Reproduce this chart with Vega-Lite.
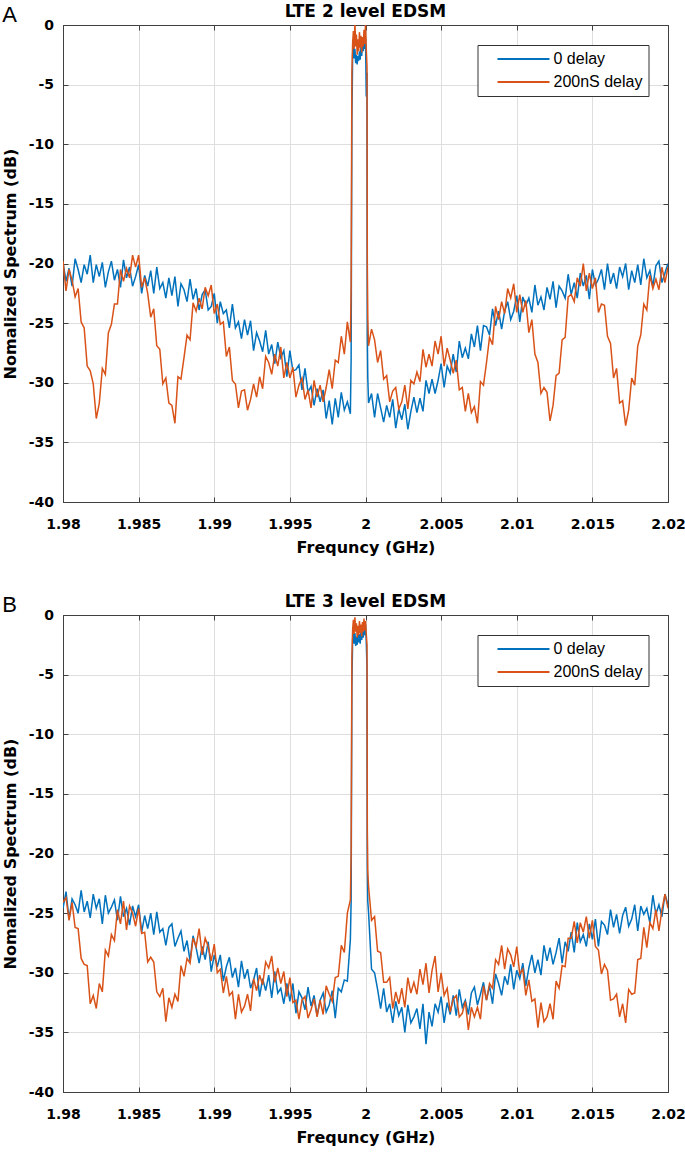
{
"$schema":"https://vega.github.io/schema/vega-lite/v6.json",
"padding":{"left":1,"top":2,"right":0,"bottom":0},
"spacing":36,
"config":{"view":{"stroke":"#404040","strokeWidth":1},"font":"DejaVu Sans"},
"resolve":{"scale":{"color":"independent"},"legend":{"color":"independent"}},
"datasets":{
"a0":[{"f":1.98,"d":-19.9},{"f":1.9802,"d":-21.5},{"f":1.9804,"d":-20.4},{"f":1.9806,"d":-21.9},{"f":1.9808,"d":-19.6},{"f":1.981,"d":-20.5},{"f":1.9812,"d":-21.6},{"f":1.9814,"d":-20.1},{"f":1.9816,"d":-20.9},{"f":1.9818,"d":-19.3},
{"f":1.982,"d":-21.6},{"f":1.9822,"d":-20.1},{"f":1.9824,"d":-21.1},{"f":1.9826,"d":-19.9},{"f":1.9828,"d":-22.0},{"f":1.983,"d":-20.7},{"f":1.9832,"d":-19.8},{"f":1.9834,"d":-21.4},{"f":1.9836,"d":-20.5},{"f":1.9838,"d":-22.0},
{"f":1.984,"d":-19.7},{"f":1.9842,"d":-21.2},{"f":1.9844,"d":-20.3},{"f":1.9846,"d":-21.9},{"f":1.9848,"d":-21.1},{"f":1.985,"d":-20.1},{"f":1.9852,"d":-22.5},{"f":1.9854,"d":-21.0},{"f":1.9856,"d":-21.9},{"f":1.9858,"d":-20.6},
{"f":1.986,"d":-22.5},{"f":1.9862,"d":-20.3},{"f":1.9864,"d":-22.1},{"f":1.9866,"d":-21.6},{"f":1.9868,"d":-22.9},{"f":1.987,"d":-21.2},{"f":1.9872,"d":-22.7},{"f":1.9874,"d":-21.1},{"f":1.9876,"d":-23.6},{"f":1.9878,"d":-21.7},
{"f":1.988,"d":-22.2},{"f":1.9882,"d":-23.2},{"f":1.9884,"d":-21.3},{"f":1.9886,"d":-23.0},{"f":1.9888,"d":-22.1},{"f":1.989,"d":-23.9},{"f":1.9892,"d":-22.6},{"f":1.9894,"d":-22.2},{"f":1.9896,"d":-23.9},{"f":1.9898,"d":-23.6},
{"f":1.99,"d":-22.5},{"f":1.9902,"d":-25.0},{"f":1.9904,"d":-23.2},{"f":1.9906,"d":-24.2},{"f":1.9908,"d":-23.9},{"f":1.991,"d":-25.4},{"f":1.9912,"d":-23.4},{"f":1.9914,"d":-25.4},{"f":1.9916,"d":-24.9},{"f":1.9918,"d":-26.3},
{"f":1.992,"d":-24.7},{"f":1.9922,"d":-26.0},{"f":1.9924,"d":-24.8},{"f":1.9926,"d":-27.3},{"f":1.9928,"d":-25.8},{"f":1.993,"d":-26.5},{"f":1.9932,"d":-27.4},{"f":1.9934,"d":-25.6},{"f":1.9936,"d":-27.6},{"f":1.9938,"d":-26.8},
{"f":1.994,"d":-28.4},{"f":1.9942,"d":-26.6},{"f":1.9944,"d":-27.9},{"f":1.9946,"d":-27.3},{"f":1.9948,"d":-29.5},{"f":1.995,"d":-27.3},{"f":1.9952,"d":-29.0},{"f":1.9954,"d":-28.9},{"f":1.9956,"d":-28.5},{"f":1.9958,"d":-30.6},
{"f":1.996,"d":-28.8},{"f":1.9962,"d":-30.8},{"f":1.9964,"d":-30.3},{"f":1.9966,"d":-31.9},{"f":1.9968,"d":-30.5},{"f":1.997,"d":-31.6},{"f":1.9972,"d":-30.6},{"f":1.9974,"d":-33.0},{"f":1.9976,"d":-31.5},{"f":1.9978,"d":-33.5},
{"f":1.998,"d":-31.3},{"f":1.9982,"d":-32.9},{"f":1.9984,"d":-30.8},{"f":1.9986,"d":-32.3},{"f":1.9988,"d":-31.6},{"f":1.999,"d":-32.6},
{"f":1.99905,"d":-28},{"f":1.9991,"d":-8},{"f":1.99915,"d":-2.5},{"f":1.9992,"d":-1.5},{"f":1.99925,"d":-2.8},{"f":1.9993,"d":-2.0},{"f":1.99935,"d":-3.2},{"f":1.9994,"d":-2.5},{"f":1.99945,"d":-3.3},{"f":1.9995,"d":-2.6},{"f":1.99955,"d":-3.0},{"f":1.9996,"d":-2.2},{"f":1.99965,"d":-2.9},{"f":1.9997,"d":-1.8},{"f":1.99975,"d":-2.6},{"f":1.9998,"d":-1.4},{"f":1.99985,"d":-2.2},{"f":1.9999,"d":-1.2},{"f":1.99995,"d":-2.0},{"f":2,"d":-1.0},{"f":2.00005,"d":-6.0},{"f":2.0001,"d":-4.0},{"f":2.00012,"d":-26},{"f":2.00015,"d":-29.5},
{"f":2.0002,"d":-31.7},{"f":2.0004,"d":-30.9},{"f":2.0006,"d":-32.9},{"f":2.0008,"d":-30.9},{"f":2.001,"d":-32.1},{"f":2.0012,"d":-33.3},{"f":2.0014,"d":-31.9},{"f":2.0016,"d":-32.9},{"f":2.0018,"d":-31.4},{"f":2.002,"d":-33.8},
{"f":2.0022,"d":-32.2},{"f":2.0024,"d":-33.1},{"f":2.0026,"d":-31.8},{"f":2.0028,"d":-33.9},{"f":2.003,"d":-32.4},{"f":2.0032,"d":-31.2},{"f":2.0034,"d":-32.5},{"f":2.0036,"d":-31.3},{"f":2.0038,"d":-32.4},{"f":2.004,"d":-29.8},
{"f":2.0042,"d":-30.9},{"f":2.0044,"d":-29.7},{"f":2.0046,"d":-30.9},{"f":2.0048,"d":-29.8},{"f":2.005,"d":-28.4},{"f":2.0052,"d":-30.4},{"f":2.0054,"d":-28.6},{"f":2.0056,"d":-29.2},{"f":2.0058,"d":-27.6},{"f":2.006,"d":-29.1},
{"f":2.0062,"d":-26.5},{"f":2.0064,"d":-27.9},{"f":2.0066,"d":-27.1},{"f":2.0068,"d":-28.0},{"f":2.007,"d":-25.9},{"f":2.0072,"d":-27.0},{"f":2.0074,"d":-25.2},{"f":2.0076,"d":-27.3},{"f":2.0078,"d":-25.2},{"f":2.008,"d":-25.3},
{"f":2.0082,"d":-26.0},{"f":2.0084,"d":-23.8},{"f":2.0086,"d":-25.2},{"f":2.0088,"d":-24.0},{"f":2.009,"d":-25.5},{"f":2.0092,"d":-24.0},{"f":2.0094,"d":-23.2},{"f":2.0096,"d":-24.7},{"f":2.0098,"d":-24.0},{"f":2.01,"d":-22.7},
{"f":2.0102,"d":-24.9},{"f":2.0104,"d":-22.8},{"f":2.0106,"d":-23.5},{"f":2.0108,"d":-22.9},{"f":2.011,"d":-24.1},{"f":2.0112,"d":-21.8},{"f":2.0114,"d":-23.5},{"f":2.0116,"d":-22.8},{"f":2.0118,"d":-23.9},{"f":2.012,"d":-22.0},
{"f":2.0122,"d":-23.0},{"f":2.0124,"d":-21.5},{"f":2.0126,"d":-23.7},{"f":2.0128,"d":-21.9},{"f":2.013,"d":-22.3},{"f":2.0132,"d":-22.9},{"f":2.0134,"d":-20.9},{"f":2.0136,"d":-22.6},{"f":2.0138,"d":-21.6},{"f":2.014,"d":-22.9},
{"f":2.0142,"d":-20.8},{"f":2.0144,"d":-21.9},{"f":2.0146,"d":-21.0},{"f":2.0148,"d":-23.0},{"f":2.015,"d":-20.5},{"f":2.0152,"d":-21.8},{"f":2.0154,"d":-21.3},{"f":2.0156,"d":-20.5},{"f":2.0158,"d":-22.2},{"f":2.016,"d":-20.0},
{"f":2.0162,"d":-21.7},{"f":2.0164,"d":-20.8},{"f":2.0166,"d":-22.1},{"f":2.0168,"d":-20.3},{"f":2.017,"d":-21.1},{"f":2.0172,"d":-20.0},{"f":2.0174,"d":-22.2},{"f":2.0176,"d":-20.6},{"f":2.0178,"d":-21.6},{"f":2.018,"d":-20.1},
{"f":2.0182,"d":-21.8},{"f":2.0184,"d":-19.6},{"f":2.0186,"d":-21.2},{"f":2.0188,"d":-20.6},{"f":2.019,"d":-21.9},{"f":2.0192,"d":-20.2},{"f":2.0194,"d":-19.8},{"f":2.0196,"d":-21.6},{"f":2.0198,"d":-20.8},{"f":2.02,"d":-20.0}],
"a2":[{"f":1.98,"d":-19.8},{"f":1.9802,"d":-22.3},{"f":1.9804,"d":-20.5},{"f":1.9806,"d":-21.4},{"f":1.9808,"d":-22.8},{"f":1.981,"d":-22.1},{"f":1.9812,"d":-24.9},{"f":1.9814,"d":-25.4},{"f":1.9816,"d":-28.6},{"f":1.9818,"d":-29.0},
{"f":1.982,"d":-30.1},{"f":1.9822,"d":-33.0},{"f":1.9824,"d":-31.7},{"f":1.9826,"d":-28.8},{"f":1.9828,"d":-29.3},{"f":1.983,"d":-25.8},{"f":1.9832,"d":-25.1},{"f":1.9834,"d":-23.4},{"f":1.9836,"d":-23.4},{"f":1.9838,"d":-20.5},
{"f":1.984,"d":-21.5},{"f":1.9842,"d":-20.4},{"f":1.9844,"d":-21.2},{"f":1.9846,"d":-19.3},{"f":1.9848,"d":-20.3},{"f":1.985,"d":-19.3},{"f":1.9852,"d":-22.0},{"f":1.9854,"d":-21.2},{"f":1.9856,"d":-22.5},{"f":1.9858,"d":-24.5},
{"f":1.986,"d":-23.8},{"f":1.9862,"d":-26.9},{"f":1.9864,"d":-27.2},{"f":1.9866,"d":-30.1},{"f":1.9868,"d":-29.6},{"f":1.987,"d":-31.7},{"f":1.9872,"d":-31.9},{"f":1.9874,"d":-33.4},{"f":1.9876,"d":-29.5},{"f":1.9878,"d":-29.7},
{"f":1.988,"d":-27.9},{"f":1.9882,"d":-26.0},{"f":1.9884,"d":-26.4},{"f":1.9886,"d":-23.3},{"f":1.9888,"d":-24.0},{"f":1.989,"d":-22.9},{"f":1.9892,"d":-23.8},{"f":1.9894,"d":-22.0},{"f":1.9896,"d":-22.7},{"f":1.9898,"d":-21.8},
{"f":1.99,"d":-24.2},{"f":1.9902,"d":-23.4},{"f":1.9904,"d":-25.1},{"f":1.9906,"d":-24.9},{"f":1.9908,"d":-27.8},{"f":1.991,"d":-27.0},{"f":1.9912,"d":-29.8},{"f":1.9914,"d":-30.1},{"f":1.9916,"d":-32.1},{"f":1.9918,"d":-30.7},
{"f":1.992,"d":-30.6},{"f":1.9922,"d":-32.3},{"f":1.9924,"d":-31.4},{"f":1.9926,"d":-30.1},{"f":1.9928,"d":-31.2},{"f":1.993,"d":-29.5},{"f":1.9932,"d":-30.5},{"f":1.9934,"d":-27.8},{"f":1.9936,"d":-28.3},{"f":1.9938,"d":-29.3},
{"f":1.994,"d":-27.6},{"f":1.9942,"d":-28.6},{"f":1.9944,"d":-27.0},{"f":1.9946,"d":-29.6},{"f":1.9948,"d":-28.3},{"f":1.995,"d":-29.6},{"f":1.9952,"d":-28.7},{"f":1.9954,"d":-31.2},{"f":1.9956,"d":-30.2},{"f":1.9958,"d":-29.6},
{"f":1.996,"d":-31.4},{"f":1.9962,"d":-30.6},{"f":1.9964,"d":-32.1},{"f":1.9966,"d":-29.8},{"f":1.9968,"d":-31.2},{"f":1.997,"d":-30.2},{"f":1.9972,"d":-31.6},{"f":1.9974,"d":-30.4},{"f":1.9976,"d":-28.9},{"f":1.9978,"d":-30.5},
{"f":1.998,"d":-28.1},{"f":1.9982,"d":-28.3},{"f":1.9984,"d":-26.1},{"f":1.9986,"d":-27.6},{"f":1.9988,"d":-24.9},{"f":1.999,"d":-26.6},
{"f":1.99905,"d":-22},{"f":1.9991,"d":-4},{"f":1.99915,"d":-1.5},{"f":1.9992,"d":-0.5},{"f":1.99925,"d":-2.0},{"f":1.9993,"d":0.2},{"f":1.99935,"d":-1.8},{"f":1.9994,"d":-0.8},{"f":1.99945,"d":-2.5},{"f":1.9995,"d":-1.2},{"f":1.99955,"d":-2.2},{"f":1.9996,"d":-0.6},{"f":1.99965,"d":-1.9},{"f":1.9997,"d":-0.9},{"f":1.99975,"d":-2.3},{"f":1.9998,"d":-1.0},{"f":1.99985,"d":-1.8},{"f":1.9999,"d":-0.4},{"f":1.99995,"d":-1.6},{"f":2,"d":0.1},{"f":2.00005,"d":-2.0},{"f":2.0001,"d":-3.5},{"f":2.00012,"d":-20},{"f":2.00015,"d":-24.5},
{"f":2.0002,"d":-26.9},{"f":2.0004,"d":-25.5},{"f":2.0006,"d":-26.4},{"f":2.0008,"d":-28.3},{"f":2.001,"d":-27.3},{"f":2.0012,"d":-29.7},{"f":2.0014,"d":-29.4},{"f":2.0016,"d":-31.6},{"f":2.0018,"d":-30.7},{"f":2.002,"d":-30.4},
{"f":2.0022,"d":-32.2},{"f":2.0024,"d":-31.6},{"f":2.0026,"d":-30.2},{"f":2.0028,"d":-32.2},{"f":2.003,"d":-29.8},{"f":2.0032,"d":-30.1},{"f":2.0034,"d":-29.1},{"f":2.0036,"d":-29.9},{"f":2.0038,"d":-27.2},{"f":2.004,"d":-28.7},
{"f":2.0042,"d":-27.6},{"f":2.0044,"d":-28.6},{"f":2.0046,"d":-26.5},{"f":2.0048,"d":-27.6},{"f":2.005,"d":-26.1},{"f":2.0052,"d":-28.6},{"f":2.0054,"d":-27.1},{"f":2.0056,"d":-28.1},{"f":2.0058,"d":-29.2},{"f":2.006,"d":-28.1},
{"f":2.0062,"d":-30.6},{"f":2.0064,"d":-30.4},{"f":2.0066,"d":-32.4},{"f":2.0068,"d":-30.9},{"f":2.007,"d":-32.5},{"f":2.0072,"d":-32.0},{"f":2.0074,"d":-33.4},{"f":2.0076,"d":-29.9},{"f":2.0078,"d":-30.2},{"f":2.008,"d":-28.3},
{"f":2.0082,"d":-26.2},{"f":2.0084,"d":-26.8},{"f":2.0086,"d":-23.6},{"f":2.0088,"d":-24.7},{"f":2.009,"d":-23.2},{"f":2.0092,"d":-24.2},{"f":2.0094,"d":-22.1},{"f":2.0096,"d":-22.9},{"f":2.0098,"d":-21.7},{"f":2.01,"d":-24.1},
{"f":2.0102,"d":-22.6},{"f":2.0104,"d":-24.1},{"f":2.0106,"d":-23.1},{"f":2.0108,"d":-25.8},{"f":2.011,"d":-24.7},{"f":2.0112,"d":-27.6},{"f":2.0114,"d":-28.3},{"f":2.0116,"d":-30.9},{"f":2.0118,"d":-30.4},{"f":2.012,"d":-30.8},
{"f":2.0122,"d":-33.2},{"f":2.0124,"d":-31.9},{"f":2.0126,"d":-29.4},{"f":2.0128,"d":-29.2},{"f":2.013,"d":-26.4},{"f":2.0132,"d":-26.2},{"f":2.0134,"d":-22.8},{"f":2.0136,"d":-22.6},{"f":2.0138,"d":-23.2},{"f":2.014,"d":-21.2},
{"f":2.0142,"d":-21.9},{"f":2.0144,"d":-20.0},{"f":2.0146,"d":-22.3},{"f":2.0148,"d":-20.8},{"f":2.015,"d":-22.1},{"f":2.0152,"d":-21.2},{"f":2.0154,"d":-24.1},{"f":2.0156,"d":-23.4},{"f":2.0158,"d":-23.5},{"f":2.016,"d":-26.1},
{"f":2.0162,"d":-26.7},{"f":2.0164,"d":-29.6},{"f":2.0166,"d":-28.8},{"f":2.0168,"d":-31.7},{"f":2.017,"d":-31.5},{"f":2.0172,"d":-33.6},{"f":2.0174,"d":-32.3},{"f":2.0176,"d":-29.6},{"f":2.0178,"d":-30.2},{"f":2.018,"d":-26.9},
{"f":2.0182,"d":-26.0},{"f":2.0184,"d":-23.4},{"f":2.0186,"d":-23.9},{"f":2.0188,"d":-21.0},{"f":2.019,"d":-22.1},{"f":2.0192,"d":-21.3},{"f":2.0194,"d":-22.2},{"f":2.0196,"d":-20.3},{"f":2.0198,"d":-21.6},{"f":2.02,"d":-20.3}],
"b0":[{"f":1.98,"d":-24.6},{"f":1.9802,"d":-23.2},{"f":1.9804,"d":-25.5},{"f":1.9806,"d":-23.8},{"f":1.9808,"d":-24.3},{"f":1.981,"d":-25.0},{"f":1.9812,"d":-23.1},{"f":1.9814,"d":-24.9},{"f":1.9816,"d":-24.0},{"f":1.9818,"d":-25.4},
{"f":1.982,"d":-23.4},{"f":1.9822,"d":-24.6},{"f":1.9824,"d":-23.8},{"f":1.9826,"d":-25.9},{"f":1.9828,"d":-23.5},{"f":1.983,"d":-25.0},{"f":1.9832,"d":-24.5},{"f":1.9834,"d":-23.9},{"f":1.9836,"d":-25.6},{"f":1.9838,"d":-23.6},
{"f":1.984,"d":-25.3},{"f":1.9842,"d":-24.6},{"f":1.9844,"d":-26.0},{"f":1.9846,"d":-24.4},{"f":1.9848,"d":-25.3},{"f":1.985,"d":-24.3},{"f":1.9852,"d":-26.6},{"f":1.9854,"d":-25.2},{"f":1.9856,"d":-26.3},{"f":1.9858,"d":-25.0},
{"f":1.986,"d":-26.8},{"f":1.9862,"d":-24.9},{"f":1.9864,"d":-26.6},{"f":1.9866,"d":-26.3},{"f":1.9868,"d":-27.7},{"f":1.987,"d":-26.2},{"f":1.9872,"d":-25.9},{"f":1.9874,"d":-27.8},{"f":1.9876,"d":-27.1},{"f":1.9878,"d":-26.5},
{"f":1.988,"d":-28.2},{"f":1.9882,"d":-27.3},{"f":1.9884,"d":-29.0},{"f":1.9886,"d":-26.9},{"f":1.9888,"d":-27.9},{"f":1.989,"d":-29.2},{"f":1.9892,"d":-27.8},{"f":1.9894,"d":-28.9},{"f":1.9896,"d":-27.4},{"f":1.9898,"d":-29.9},
{"f":1.99,"d":-28.5},{"f":1.9902,"d":-29.5},{"f":1.9904,"d":-28.5},{"f":1.9906,"d":-30.7},{"f":1.9908,"d":-29.5},{"f":1.991,"d":-28.7},{"f":1.9912,"d":-30.4},{"f":1.9914,"d":-29.6},{"f":1.9916,"d":-31.2},{"f":1.9918,"d":-29.0},
{"f":1.992,"d":-30.5},{"f":1.9922,"d":-29.7},{"f":1.9924,"d":-31.3},{"f":1.9926,"d":-30.6},{"f":1.9928,"d":-29.6},{"f":1.993,"d":-32.0},{"f":1.9932,"d":-30.5},{"f":1.9934,"d":-31.5},{"f":1.9936,"d":-30.2},{"f":1.9938,"d":-32.1},
{"f":1.994,"d":-29.9},{"f":1.9942,"d":-31.7},{"f":1.9944,"d":-31.3},{"f":1.9946,"d":-32.6},{"f":1.9948,"d":-30.9},{"f":1.995,"d":-32.4},{"f":1.9952,"d":-30.9},{"f":1.9954,"d":-33.4},{"f":1.9956,"d":-31.6},{"f":1.9958,"d":-32.1},
{"f":1.996,"d":-33.1},{"f":1.9962,"d":-31.2},{"f":1.9964,"d":-32.8},{"f":1.9966,"d":-31.9},{"f":1.9968,"d":-33.6},{"f":1.997,"d":-32.3},{"f":1.9972,"d":-31.7},{"f":1.9974,"d":-33.3},{"f":1.9976,"d":-32.7},{"f":1.9978,"d":-31.5},
{"f":1.998,"d":-33.8},{"f":1.9982,"d":-31.3},{"f":1.9984,"d":-31.6},{"f":1.9986,"d":-30.6},{"f":1.9988,"d":-30.7},{"f":1.999,"d":-27.2},
{"f":1.99905,"d":-24},{"f":1.9991,"d":-6},{"f":1.99915,"d":-2.0},{"f":1.9992,"d":-1.2},{"f":1.99925,"d":-2.4},{"f":1.9993,"d":-1.5},{"f":1.99935,"d":-2.6},{"f":1.9994,"d":-1.8},{"f":1.99945,"d":-2.5},{"f":1.9995,"d":-1.4},{"f":1.99955,"d":-2.3},{"f":1.9996,"d":-1.6},{"f":1.99965,"d":-2.4},{"f":1.9997,"d":-1.3},{"f":1.99975,"d":-2.1},{"f":1.9998,"d":-1.0},{"f":1.99985,"d":-1.9},{"f":1.9999,"d":-0.9},{"f":1.99995,"d":-1.7},{"f":2,"d":-0.8},{"f":2.00005,"d":-2.2},{"f":2.0001,"d":-4.5},{"f":2.00012,"d":-21},{"f":2.00015,"d":-24},
{"f":2.0002,"d":-24.9},{"f":2.0004,"d":-29.7},{"f":2.0006,"d":-30.0},{"f":2.0008,"d":-31.4},{"f":2.001,"d":-33.0},{"f":2.0012,"d":-31.3},{"f":2.0014,"d":-33.3},{"f":2.0016,"d":-32.6},{"f":2.0018,"d":-34.2},{"f":2.002,"d":-32.4},
{"f":2.0022,"d":-33.6},{"f":2.0024,"d":-32.9},{"f":2.0026,"d":-35.0},{"f":2.0028,"d":-32.7},{"f":2.003,"d":-34.2},{"f":2.0032,"d":-33.7},{"f":2.0034,"d":-33.0},{"f":2.0036,"d":-34.7},{"f":2.0038,"d":-32.6},{"f":2.004,"d":-36.0},
{"f":2.0042,"d":-33.3},{"f":2.0044,"d":-34.5},{"f":2.0046,"d":-32.6},{"f":2.0048,"d":-33.3},{"f":2.005,"d":-32.0},{"f":2.0052,"d":-34.2},{"f":2.0054,"d":-32.5},{"f":2.0056,"d":-33.5},{"f":2.0058,"d":-31.9},{"f":2.006,"d":-33.6},
{"f":2.0062,"d":-31.4},{"f":2.0064,"d":-32.9},{"f":2.0066,"d":-32.3},{"f":2.0068,"d":-33.5},{"f":2.007,"d":-31.7},{"f":2.0072,"d":-31.2},{"f":2.0074,"d":-32.7},{"f":2.0076,"d":-31.8},{"f":2.0078,"d":-30.8},{"f":2.008,"d":-32.3},
{"f":2.0082,"d":-31.1},{"f":2.0084,"d":-32.6},{"f":2.0086,"d":-30.1},{"f":2.0088,"d":-30.9},{"f":2.009,"d":-31.9},{"f":2.0092,"d":-30.3},{"f":2.0094,"d":-31.0},{"f":2.0096,"d":-29.3},{"f":2.0098,"d":-31.4},{"f":2.01,"d":-29.8},
{"f":2.0102,"d":-30.5},{"f":2.0104,"d":-29.2},{"f":2.0106,"d":-31.1},{"f":2.0108,"d":-29.6},{"f":2.011,"d":-28.5},{"f":2.0112,"d":-30.0},{"f":2.0114,"d":-28.9},{"f":2.0116,"d":-30.2},{"f":2.0118,"d":-27.7},{"f":2.012,"d":-29.0},
{"f":2.0122,"d":-27.9},{"f":2.0124,"d":-29.3},{"f":2.0126,"d":-28.3},{"f":2.0128,"d":-27.1},{"f":2.013,"d":-29.2},{"f":2.0132,"d":-27.4},{"f":2.0134,"d":-28.2},{"f":2.0136,"d":-26.6},{"f":2.0138,"d":-28.3},{"f":2.014,"d":-25.8},
{"f":2.0142,"d":-27.4},{"f":2.0144,"d":-26.8},{"f":2.0146,"d":-27.8},{"f":2.0148,"d":-25.9},{"f":2.015,"d":-27.2},{"f":2.0152,"d":-25.5},{"f":2.0154,"d":-27.8},{"f":2.0156,"d":-25.7},{"f":2.0158,"d":-26.0},{"f":2.016,"d":-26.8},
{"f":2.0162,"d":-24.7},{"f":2.0164,"d":-26.2},{"f":2.0166,"d":-25.1},{"f":2.0168,"d":-26.7},{"f":2.017,"d":-25.2},{"f":2.0172,"d":-24.5},{"f":2.0174,"d":-26.1},{"f":2.0176,"d":-25.5},{"f":2.0178,"d":-24.3},{"f":2.018,"d":-26.5},
{"f":2.0182,"d":-24.4},{"f":2.0184,"d":-25.1},{"f":2.0186,"d":-24.6},{"f":2.0188,"d":-25.8},{"f":2.019,"d":-23.5},{"f":2.0192,"d":-25.1},{"f":2.0194,"d":-24.3},{"f":2.0196,"d":-25.3},{"f":2.0198,"d":-23.4},{"f":2.02,"d":-24.3}],
"b2":[{"f":1.98,"d":-24.1},{"f":1.9802,"d":-23.7},{"f":1.9804,"d":-25.6},{"f":1.9806,"d":-24.1},{"f":1.9808,"d":-26.2},{"f":1.981,"d":-26.3},{"f":1.9812,"d":-28.8},{"f":1.9814,"d":-29.3},{"f":1.9816,"d":-29.4},{"f":1.9818,"d":-32.6},
{"f":1.982,"d":-31.9},{"f":1.9822,"d":-33.0},{"f":1.9824,"d":-30.9},{"f":1.9826,"d":-31.6},{"f":1.9828,"d":-28.1},{"f":1.983,"d":-28.6},{"f":1.9832,"d":-26.8},{"f":1.9834,"d":-27.3},{"f":1.9836,"d":-24.7},{"f":1.9838,"d":-25.9},
{"f":1.984,"d":-24.0},{"f":1.9842,"d":-26.4},{"f":1.9844,"d":-24.4},{"f":1.9846,"d":-25.0},{"f":1.9848,"d":-26.1},{"f":1.985,"d":-24.6},{"f":1.9852,"d":-26.7},{"f":1.9854,"d":-26.6},{"f":1.9856,"d":-29.1},{"f":1.9858,"d":-28.7},
{"f":1.986,"d":-29.1},{"f":1.9862,"d":-31.6},{"f":1.9864,"d":-32.0},{"f":1.9866,"d":-31.3},{"f":1.9868,"d":-34.1},{"f":1.987,"d":-32.1},{"f":1.9872,"d":-32.9},{"f":1.9874,"d":-31.8},{"f":1.9876,"d":-32.4},{"f":1.9878,"d":-29.4},
{"f":1.988,"d":-30.3},{"f":1.9882,"d":-28.8},{"f":1.9884,"d":-29.2},{"f":1.9886,"d":-27.1},{"f":1.9888,"d":-27.8},{"f":1.989,"d":-26.3},{"f":1.9892,"d":-28.5},{"f":1.9894,"d":-27.1},{"f":1.9896,"d":-27.8},{"f":1.9898,"d":-29.0},
{"f":1.99,"d":-27.6},{"f":1.9902,"d":-30.0},{"f":1.9904,"d":-29.7},{"f":1.9906,"d":-31.7},{"f":1.9908,"d":-30.3},{"f":1.991,"d":-31.9},{"f":1.9912,"d":-31.6},{"f":1.9914,"d":-33.9},{"f":1.9916,"d":-31.8},{"f":1.9918,"d":-33.3},
{"f":1.992,"d":-32.8},{"f":1.9922,"d":-31.8},{"f":1.9924,"d":-33.2},{"f":1.9926,"d":-30.5},{"f":1.9928,"d":-31.5},{"f":1.993,"d":-30.2},{"f":1.9932,"d":-31.0},{"f":1.9934,"d":-29.1},{"f":1.9936,"d":-29.6},{"f":1.9938,"d":-28.6},
{"f":1.994,"d":-30.8},{"f":1.9942,"d":-29.6},{"f":1.9944,"d":-30.9},{"f":1.9946,"d":-29.9},{"f":1.9948,"d":-32.0},{"f":1.995,"d":-30.4},{"f":1.9952,"d":-32.5},{"f":1.9954,"d":-32.3},{"f":1.9956,"d":-33.9},{"f":1.9958,"d":-32.3},
{"f":1.996,"d":-32.0},{"f":1.9962,"d":-33.8},{"f":1.9964,"d":-33.1},{"f":1.9966,"d":-32.2},{"f":1.9968,"d":-33.7},{"f":1.997,"d":-32.3},{"f":1.9972,"d":-33.5},{"f":1.9974,"d":-31.1},{"f":1.9976,"d":-31.8},{"f":1.9978,"d":-32.4},
{"f":1.998,"d":-30.4},{"f":1.9982,"d":-30.3},{"f":1.9984,"d":-27.7},{"f":1.9986,"d":-28.3},{"f":1.9988,"d":-25.0},{"f":1.999,"d":-23.9},
{"f":1.99905,"d":-20},{"f":1.9991,"d":-3.5},{"f":1.99915,"d":-1.2},{"f":1.9992,"d":-0.4},{"f":1.99925,"d":-1.6},{"f":1.9993,"d":-0.2},{"f":1.99935,"d":-1.4},{"f":1.9994,"d":-0.7},{"f":1.99945,"d":-1.9},{"f":1.9995,"d":-0.9},{"f":1.99955,"d":-1.7},{"f":1.9996,"d":-0.5},{"f":1.99965,"d":-1.5},{"f":1.9997,"d":-0.8},{"f":1.99975,"d":-1.8},{"f":1.9998,"d":-0.6},{"f":1.99985,"d":-1.4},{"f":1.9999,"d":-0.3},{"f":1.99995,"d":-1.3},{"f":2,"d":-0.5},{"f":2.00005,"d":-1.6},{"f":2.0001,"d":-2.5},{"f":2.00012,"d":-18},{"f":2.00015,"d":-21.5},
{"f":2.0002,"d":-22.7},{"f":2.0004,"d":-25.6},{"f":2.0006,"d":-25.3},{"f":2.0008,"d":-28.2},{"f":2.001,"d":-28.3},{"f":2.0012,"d":-30.8},{"f":2.0014,"d":-30.8},{"f":2.0016,"d":-30.4},{"f":2.0018,"d":-33.0},{"f":2.002,"d":-31.6},
{"f":2.0022,"d":-32.6},{"f":2.0024,"d":-31.3},{"f":2.0026,"d":-32.9},{"f":2.0028,"d":-30.4},{"f":2.003,"d":-31.7},{"f":2.0032,"d":-30.8},{"f":2.0034,"d":-31.8},{"f":2.0036,"d":-29.7},{"f":2.0038,"d":-31.0},{"f":2.004,"d":-29.2},
{"f":2.0042,"d":-31.7},{"f":2.0044,"d":-29.8},{"f":2.0046,"d":-28.6},{"f":2.0048,"d":-31.6},{"f":2.005,"d":-30.0},{"f":2.0052,"d":-31.9},{"f":2.0054,"d":-31.3},{"f":2.0056,"d":-33.3},{"f":2.0058,"d":-32.2},{"f":2.006,"d":-31.9},
{"f":2.0062,"d":-33.7},{"f":2.0064,"d":-33.4},{"f":2.0066,"d":-32.4},{"f":2.0068,"d":-34.8},{"f":2.007,"d":-32.9},{"f":2.0072,"d":-33.7},{"f":2.0074,"d":-32.9},{"f":2.0076,"d":-33.9},{"f":2.0078,"d":-31.1},{"f":2.008,"d":-32.3},
{"f":2.0082,"d":-30.9},{"f":2.0084,"d":-31.3},{"f":2.0086,"d":-28.9},{"f":2.0088,"d":-29.3},{"f":2.009,"d":-27.7},{"f":2.0092,"d":-29.7},{"f":2.0094,"d":-28.0},{"f":2.0096,"d":-28.5},{"f":2.0098,"d":-29.5},{"f":2.01,"d":-27.8},
{"f":2.0102,"d":-30.1},{"f":2.0104,"d":-29.7},{"f":2.0106,"d":-31.9},{"f":2.0108,"d":-30.6},{"f":2.011,"d":-32.4},{"f":2.0112,"d":-32.2},{"f":2.0114,"d":-34.6},{"f":2.0116,"d":-32.5},{"f":2.0118,"d":-34.1},{"f":2.012,"d":-33.7},
{"f":2.0122,"d":-32.6},{"f":2.0124,"d":-33.9},{"f":2.0126,"d":-30.7},{"f":2.0128,"d":-31.3},{"f":2.013,"d":-29.4},{"f":2.0132,"d":-29.5},{"f":2.0134,"d":-27.1},{"f":2.0136,"d":-27.1},{"f":2.0138,"d":-25.7},{"f":2.014,"d":-27.5},
{"f":2.0142,"d":-25.8},{"f":2.0144,"d":-26.6},{"f":2.0146,"d":-25.3},{"f":2.0148,"d":-27.1},{"f":2.015,"d":-25.6},{"f":2.0152,"d":-27.8},{"f":2.0154,"d":-28.1},{"f":2.0156,"d":-30.1},{"f":2.0158,"d":-29.3},{"f":2.016,"d":-29.8},
{"f":2.0162,"d":-32.3},{"f":2.0164,"d":-32.2},{"f":2.0166,"d":-31.8},{"f":2.0168,"d":-33.7},{"f":2.017,"d":-32.6},{"f":2.0172,"d":-34.2},{"f":2.0174,"d":-31.4},{"f":2.0176,"d":-31.8},{"f":2.0178,"d":-31.7},{"f":2.018,"d":-28.9},
{"f":2.0182,"d":-28.8},{"f":2.0184,"d":-26.2},{"f":2.0186,"d":-27.9},{"f":2.0188,"d":-25.8},{"f":2.019,"d":-26.3},{"f":2.0192,"d":-24.7},{"f":2.0194,"d":-26.5},{"f":2.0196,"d":-24.7},{"f":2.0198,"d":-23.4},{"f":2.02,"d":-24.6}]
},
"vconcat":[
{"width":605,"height":477,
 "title":{"text":"LTE 2 level EDSM","anchor":"middle","font":"DejaVu Sans","fontSize":17,"fontWeight":"bold","color":"#000","offset":-17},
 "layer":[
  {"data":{"name":"a0"},"mark":{"type":"line","clip":true,"strokeWidth":1.5},
   "encoding":{
    "x":{"field":"f","type":"quantitative","scale":{"domain":[1.98,2.02],"nice":false,"zero":false},
     "axis":{"orient":"bottom","values":[1.98,1.985,1.99,1.995,2,2.005,2.01,2.015,2.02],"labelExpr":"'' + datum.value","title":"Frequncy (GHz)","grid":true,"gridColor":"#dedede","gridWidth":1,"domainColor":"#404040","tickColor":"#404040","tickSize":-5,"labelFont":"DejaVu Sans","labelFontSize":14,"labelFontWeight":"bold","labelColor":"#000","labelPadding":20,"labelFlush":false,"labelOverlap":false,"titleFont":"DejaVu Sans","titleFontSize":16,"titleFontWeight":"bold","titleColor":"#000","titlePadding":8}},
    "y":{"field":"d","type":"quantitative","scale":{"domain":[-40,0],"nice":false,"zero":false},
     "axis":{"orient":"left","values":[-40,-35,-30,-25,-20,-15,-10,-5,0],"labelExpr":"'' + datum.value","title":"Nomalized Spectrum (dB)","grid":true,"gridColor":"#dedede","gridWidth":1,"domainColor":"#404040","tickColor":"#404040","tickSize":-5,"labelFont":"DejaVu Sans","labelFontSize":14,"labelFontWeight":"bold","labelColor":"#000","labelPadding":14.5,"labelFlush":false,"labelOverlap":false,"titleFont":"DejaVu Sans","titleFontSize":16,"titleFontWeight":"bold","titleColor":"#000","titlePadding":10}},
    "color":{"datum":"0 delay","type":"nominal","scale":{"domain":["0 delay","200nS delay"],"range":["#0072BD","#D95319"]},
     "legend":{"orient":"none","legendX":414.5,"legendY":20,"title":null,"symbolType":"M-5.2,0H5.2","symbolSize":100,"symbolStrokeWidth":2,"symbolOffset":32,"labelOffset":22,"labelFont":"Liberation Sans","labelFontSize":16,"labelColor":"#000","padding":6,"strokeColor":"#333333","fillColor":"#ffffff","rowPadding":7}}}},
  {"data":{"name":"a2"},"mark":{"type":"line","clip":true,"strokeWidth":1.5},
   "encoding":{
    "x":{"field":"f","type":"quantitative","scale":{"domain":[1.98,2.02],"nice":false,"zero":false},
     "axis":{"orient":"top","values":[1.98,1.985,1.99,1.995,2,2.005,2.01,2.015,2.02],"labels":false,"title":null,"grid":false,"domainColor":"#404040","tickColor":"#404040","tickSize":-5}},
    "y":{"field":"d","type":"quantitative","scale":{"domain":[-40,0],"nice":false,"zero":false},
     "axis":{"orient":"right","values":[-40,-35,-30,-25,-20,-15,-10,-5,0],"labels":false,"title":null,"grid":false,"domainColor":"#404040","tickColor":"#404040","tickSize":-5}},
    "color":{"datum":"200nS delay","type":"nominal"}}},
  {"data":{"values":[{"t":"A"}]},"mark":{"type":"text","align":"left","baseline":"alphabetic","dx":-60.8,"dy":-3.3,"font":"Liberation Sans","fontSize":22,"color":"#000"},
   "encoding":{"text":{"field":"t"},"x":{"datum":1.98,"type":"quantitative","axis":null},"y":{"datum":0,"type":"quantitative","axis":null}}}
 ]},
{"width":605,"height":477,
 "title":{"text":"LTE 3 level EDSM","anchor":"middle","font":"DejaVu Sans","fontSize":17,"fontWeight":"bold","color":"#000","offset":-17},
 "layer":[
  {"data":{"name":"b0"},"mark":{"type":"line","clip":true,"strokeWidth":1.5},
   "encoding":{
    "x":{"field":"f","type":"quantitative","scale":{"domain":[1.98,2.02],"nice":false,"zero":false},
     "axis":{"orient":"bottom","values":[1.98,1.985,1.99,1.995,2,2.005,2.01,2.015,2.02],"labelExpr":"'' + datum.value","title":"Frequncy (GHz)","grid":true,"gridColor":"#dedede","gridWidth":1,"domainColor":"#404040","tickColor":"#404040","tickSize":-5,"labelFont":"DejaVu Sans","labelFontSize":14,"labelFontWeight":"bold","labelColor":"#000","labelPadding":20,"labelFlush":false,"labelOverlap":false,"titleFont":"DejaVu Sans","titleFontSize":16,"titleFontWeight":"bold","titleColor":"#000","titlePadding":8}},
    "y":{"field":"d","type":"quantitative","scale":{"domain":[-40,0],"nice":false,"zero":false},
     "axis":{"orient":"left","values":[-40,-35,-30,-25,-20,-15,-10,-5,0],"labelExpr":"'' + datum.value","title":"Nomalized Spectrum (dB)","grid":true,"gridColor":"#dedede","gridWidth":1,"domainColor":"#404040","tickColor":"#404040","tickSize":-5,"labelFont":"DejaVu Sans","labelFontSize":14,"labelFontWeight":"bold","labelColor":"#000","labelPadding":14.5,"labelFlush":false,"labelOverlap":false,"titleFont":"DejaVu Sans","titleFontSize":16,"titleFontWeight":"bold","titleColor":"#000","titlePadding":10}},
    "color":{"datum":"0 delay","type":"nominal","scale":{"domain":["0 delay","200nS delay"],"range":["#0072BD","#D95319"]},
     "legend":{"orient":"none","legendX":414.5,"legendY":20,"title":null,"symbolType":"M-5.2,0H5.2","symbolSize":100,"symbolStrokeWidth":2,"symbolOffset":32,"labelOffset":22,"labelFont":"Liberation Sans","labelFontSize":16,"labelColor":"#000","padding":6,"strokeColor":"#333333","fillColor":"#ffffff","rowPadding":7}}}},
  {"data":{"name":"b2"},"mark":{"type":"line","clip":true,"strokeWidth":1.5},
   "encoding":{
    "x":{"field":"f","type":"quantitative","scale":{"domain":[1.98,2.02],"nice":false,"zero":false},
     "axis":{"orient":"top","values":[1.98,1.985,1.99,1.995,2,2.005,2.01,2.015,2.02],"labels":false,"title":null,"grid":false,"domainColor":"#404040","tickColor":"#404040","tickSize":-5}},
    "y":{"field":"d","type":"quantitative","scale":{"domain":[-40,0],"nice":false,"zero":false},
     "axis":{"orient":"right","values":[-40,-35,-30,-25,-20,-15,-10,-5,0],"labels":false,"title":null,"grid":false,"domainColor":"#404040","tickColor":"#404040","tickSize":-5}},
    "color":{"datum":"200nS delay","type":"nominal"}}},
  {"data":{"values":[{"t":"B"}]},"mark":{"type":"text","align":"left","baseline":"alphabetic","dx":-60.8,"dy":-3.3,"font":"Liberation Sans","fontSize":22,"color":"#000"},
   "encoding":{"text":{"field":"t"},"x":{"datum":1.98,"type":"quantitative","axis":null},"y":{"datum":0,"type":"quantitative","axis":null}}}
 ]}
]
}
